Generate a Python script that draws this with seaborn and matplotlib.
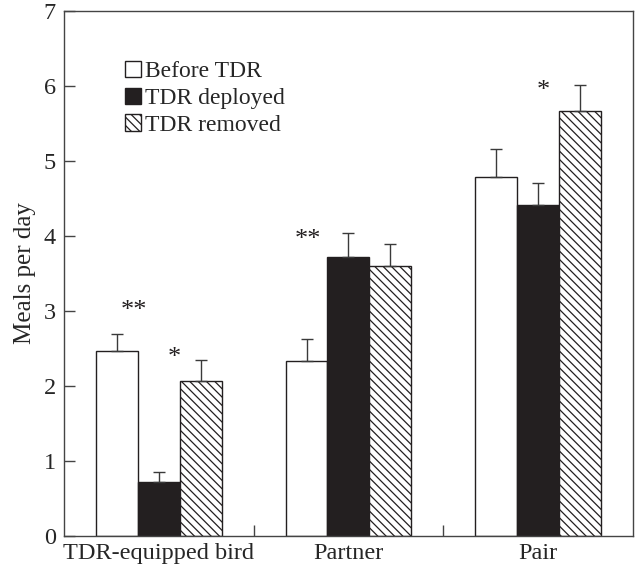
import numpy as np
import pandas as pd
import matplotlib
matplotlib.use("Agg")
import matplotlib.pyplot as plt
from matplotlib.ticker import FixedLocator
import seaborn as sns

sns.set_style("white")
plt.rcParams['font.family'] = ['Liberation Serif', 'DejaVu Serif']
plt.rcParams['hatch.linewidth'] = 0.9
plt.rcParams['hatch.color'] = '#231f20'

## Data ##
groups = ["TDR-equipped bird", "Partner", "Pair"]
conditions = ["Before TDR", "TDR deployed", "TDR removed"]

before = [2.47, 2.33, 4.79]
deployed = [0.72, 3.72, 4.41]
removed = [2.06, 3.60, 5.66]

before_se = [0.22, 0.29, 0.37]
deployed_se = [0.13, 0.32, 0.29]
removed_se = [0.28, 0.29, 0.35]

# significance marks: (x in group units, y, label)
stars_x = [-0.13, 0.08, 0.784, 2.026]
stars_y = [3.0, 2.37, 3.95, 5.93]
stars_txt = ["**", "*", "**", "*"]

df = pd.DataFrame({
    "group": groups * 3,
    "condition": np.repeat(conditions, 3),
    "meals": before + deployed + removed,
    "se": before_se + deployed_se + removed_se,
})

ink = '#231f20'

fig = plt.figure(figsize=(6.37, 5.66), dpi=100)
ax = fig.add_axes([0.1005, 0.053, 0.893, 0.9276])

sns.barplot(data=df, x="group", y="meals", hue="condition", order=groups,
            hue_order=conditions, palette=["white", ink, "white"],
            edgecolor=ink, linewidth=1.0, width=0.663, gap=0,
            errorbar=None, legend=False, ax=ax, saturation=1)

bar_sets = list(ax.containers)
for p in bar_sets[2].patches:
    p.set_hatch('\\\\\\\\')

# upper error bars only
for cont, cond in zip(bar_sets, conditions):
    sub = df[df.condition == cond].set_index("group").loc[groups]
    xs = [p.get_x() + p.get_width() / 2 for p in cont.patches]
    ax.errorbar(xs, sub["meals"], yerr=[np.zeros(len(xs)), sub["se"]],
                fmt='none', ecolor='#3a3a3a', elinewidth=1.0, capsize=4.5,
                capthick=1.0, zorder=1)

for x, y, t in zip(stars_x, stars_y, stars_txt):
    ax.text(x, y, t, ha='center', va='center', fontsize=19, color=ink)

ax.set_xlim(-0.5, 2.5)
ax.set_ylim(0, 7)
ax.set_yticks(range(0, 8))
ax.set_xlabel("")
ax.set_ylabel("Meals per day", fontsize=18, labelpad=5)
ax.xaxis.set_minor_locator(FixedLocator([0.5, 1.5]))
ax.tick_params(axis='x', which='major', length=0, pad=5, labelsize=17.5)
ax.tick_params(axis='x', which='minor', direction='in', length=8,
               width=1.0, color='#444444', bottom=True)
ax.tick_params(axis='y', direction='in', length=8, width=1.0,
               color='#444444', labelsize=17.5, pad=6, left=True)
for s in ax.spines.values():
    s.set_visible(True)
    s.set_color('#444444')
    s.set_linewidth(1.0)

handles = [c.patches[0] for c in bar_sets]
ax.legend(handles, conditions, loc='upper left', bbox_to_anchor=(0.09, 0.923),
          frameon=False, fontsize=17, handlelength=0.7, handleheight=0.7,
          handletextpad=0.15, labelspacing=0.22, borderaxespad=0)

fig.savefig("out.png", dpi=100)
